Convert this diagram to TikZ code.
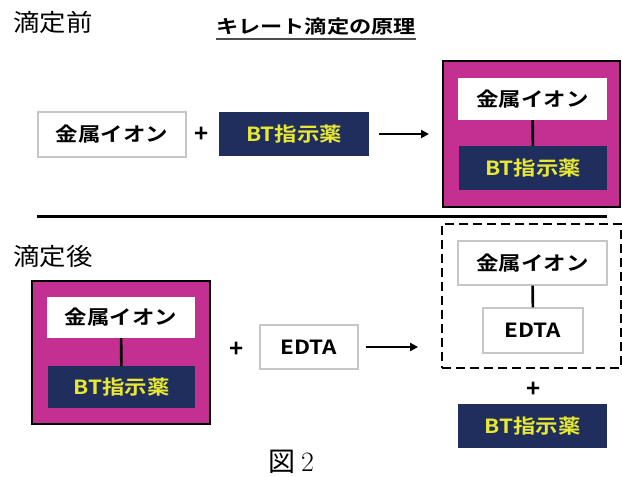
\documentclass[tikz,border=0pt]{standalone}
\usepackage{fontspec}
\usepackage{graphicx}
\newfontfamily\cjk{Noto Sans CJK JP}[BoldFont={Noto Sans CJK JP Bold}]
\usetikzlibrary{arrows.meta}
\definecolor{navy}{RGB}{31,46,92}
\definecolor{ylw}{RGB}{232,232,50}
\definecolor{mag}{RGB}{196,48,146}
\newcommand{\hs}[1]{\scalebox{1.15}[1]{#1}}
\tikzset{
  boxtext/.style={font=\cjk\bfseries\fontsize{19.5}{19.5}\selectfont, inner sep=0pt},
  wbox/.style={boxtext, draw=gray!45, line width=1.2pt, fill=white, text=black},
  wbin/.style={boxtext, fill=white, text=black},
  nbox/.style={boxtext, fill=navy, text=ylw},
  cbox/.style={draw=black, line width=2pt, fill=mag, inner sep=0pt},
  plus/.style={font=\cjk\bfseries\fontsize{24}{24}\selectfont, inner sep=0pt},
  arr/.style={line width=2.4pt, -{Triangle[length=8pt,width=8pt]}},
  link/.style={line width=2.6pt, draw=black},
  head/.style={font=\cjk\fontsize{24}{24}\selectfont, inner sep=0pt},
}
\begin{document}
\begin{tikzpicture}[x=1pt,y=-1pt]
\useasboundingbox[fill=white] (0,0) rectangle (622,477);
% headings
\node[head] (h1) at (53,22) {\scalebox{1.1}[1]{滴定前}};
\node[head] (h2) at (53,256) {\scalebox{1.1}[1]{滴定後}};
\node[font=\cjk\bfseries\fontsize{18.5}{18.5}\selectfont, inner sep=0pt] (title) at (316,27) {\scalebox{1.2}[1]{キレート滴定の原理}};
\draw[line width=1.6pt, gray!60!black] (title.south west) ++(0,3) coordinate (ul1) -- (ul1 -| title.south east);
% top row
\node[wbox, minimum width=148pt, minimum height=45pt] (m1) at (112,134.5) {\hs{金属イオン}};
\node[plus] (p1) at (202,135) {+};
\node[nbox, minimum width=150pt, minimum height=44pt] (b1) at (294,134) {\hs{BT指示薬}};
\node[cbox, minimum width=177pt, minimum height=146pt] (c1) at (531.5,134) {};
\node[wbin, minimum width=149pt, minimum height=42pt] (c1m) at (532.5,99) {\hs{金属イオン}};
\node[nbox, minimum width=148pt, minimum height=44pt] (c1b) at (533,168) {\hs{BT指示薬}};
\draw[link] (c1m) -- (c1b);
\draw[arr, shorten <=10pt, shorten >=13pt] (b1.east) -- (b1.east -| c1.west);
% separator
\coordinate (sL) at (37,216);
\coordinate (sR) at (607,216);
\draw[line width=3pt] (sL) -- (sR);
% bottom row
\node[cbox, minimum width=178pt, minimum height=143pt] (c2) at (121,352.5) {};
\node[wbin, minimum width=148pt, minimum height=41pt] (c2m) at (121,317.5) {\hs{金属イオン}};
\node[nbox, minimum width=147pt, minimum height=42pt] (c2b) at (121.5,387) {\hs{BT指示薬}};
\draw[link] (c2m) -- (c2b);
\node[plus] (p2) at (237,350) {+};
\node[wbox, minimum width=98pt, minimum height=44pt] (e1) at (309,347) {\hs{EDTA}};
\node[draw=black, line width=1.8pt, dash pattern=on 9pt off 5pt, minimum width=179pt, minimum height=144pt, inner sep=0pt] (d) at (531.5,296) {};
\node[wbox, minimum width=149pt, minimum height=44pt] (dm) at (532.5,263) {\hs{金属イオン}};
\node[wbox, minimum width=100pt, minimum height=45pt] (de) at (533,330.5) {\hs{EDTA}};
\draw[link] (dm) -- (de);
\draw[arr, shorten <=7pt, shorten >=23pt] (e1.east) -- (e1.east -| d.west);
\node[plus] (p3) at (534,390) {+};
\node[nbox, minimum width=149pt, minimum height=44pt] (b3) at (532.5,426) {\hs{BT指示薬}};
% caption
\node[inner sep=0pt] (cap) at (291,462) {{\cjk\fontsize{27}{27}\selectfont 図}\hspace{6pt}{\fontsize{28}{28}\selectfont 2}};
\end{tikzpicture}
\end{document}
